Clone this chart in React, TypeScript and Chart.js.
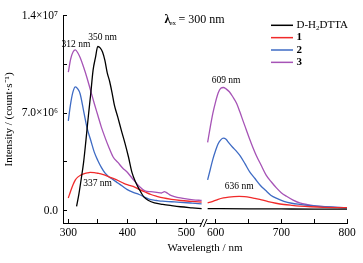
import React, { useEffect, useRef } from 'react';
import { Chart, registerables } from 'chart.js';

Chart.register(...registerables);

const FONT = "'Liberation Serif', 'Times New Roman', serif";

const seriesLabels = ['D-H\u2082DTTA', '1', '2', '3'];
const seriesColors = ['#000000', '#f02a2a', '#3e6bc4', '#a653b6'];

// ---- left segment (300–530 nm) ----
const wlLigL = [314, 318, 322, 326, 330, 334, 338, 342, 346, 350, 354, 358, 362, 366, 370, 374, 378, 384, 390, 396, 402, 408, 414, 420, 428, 436, 446, 460, 475, 490, 510, 526];
const valLigL = [0.3e6, 1.2e6, 2.3e6, 3.5e6, 5.1e6, 6.8e6, 8.4e6, 10.1e6, 11.0e6, 11.8e6, 11.7e6, 11.4e6, 10.8e6, 9.9e6, 9.3e6, 8.5e6, 7.6e6, 6.7e6, 5.75e6, 4.85e6, 3.85e6, 2.72e6, 2.05e6, 1.54e6, 0.98e6, 0.72e6, 0.55e6, 0.44e6, 0.35e6, 0.27e6, 0.19e6, 0.13e6];

const wl1L = [300, 304, 308, 312, 316, 320, 326, 332, 337, 344, 350, 358, 366, 376, 386, 394, 402, 410, 420, 430, 440, 450, 461, 475, 490, 510, 526];
const val1L = [0.9e6, 1.4e6, 1.85e6, 2.2e6, 2.4e6, 2.52e6, 2.63e6, 2.7e6, 2.74e6, 2.73e6, 2.68e6, 2.6e6, 2.48e6, 2.31e6, 2.12e6, 1.95e6, 1.83e6, 1.73e6, 1.52e6, 1.33e6, 1.15e6, 1.02e6, 0.9e6, 0.8e6, 0.72e6, 0.65e6, 0.6e6];

const wl2L = [300, 304, 308, 312, 316, 320, 326, 332, 338, 344, 350, 356, 362, 368, 376, 384, 392, 400, 410, 420, 430, 440, 450, 460, 475, 490, 510, 526];
const val2L = [6.45e6, 7.7e6, 8.55e6, 8.9e6, 8.75e6, 8.4e6, 7.15e6, 5.9e6, 5.05e6, 4.2e6, 3.6e6, 3.1e6, 2.7e6, 2.45e6, 2.22e6, 1.98e6, 1.74e6, 1.5e6, 1.3e6, 1.15e6, 0.95e6, 0.78e6, 0.72e6, 0.67e6, 0.63e6, 0.59e6, 0.53e6, 0.48e6];

const wl3L = [300, 304, 308, 312, 316, 320, 326, 332, 338, 344, 350, 356, 362, 368, 376, 384, 392, 400, 410, 420, 430, 440, 450, 458, 463, 466, 472, 480, 490, 500, 512, 526];
const val3L = [9.95e6, 10.9e6, 11.4e6, 11.55e6, 11.35e6, 11.0e6, 10.3e6, 9.5e6, 8.6e6, 7.7e6, 6.85e6, 6.0e6, 5.28e6, 4.62e6, 3.85e6, 3.46e6, 3.06e6, 2.75e6, 2.23e6, 1.75e6, 1.41e6, 1.35e6, 1.3e6, 1.26e6, 1.36e6, 1.3e6, 1.12e6, 1.0e6, 0.9e6, 0.83e6, 0.77e6, 0.72e6];

// ---- right segment (585–800 nm) ----
const wlLigR = [588, 650, 700, 750, 800];
const valLigR = [0.14e6, 0.12e6, 0.11e6, 0.1e6, 0.1e6];

const wl1R = [588, 596, 604, 612, 620, 628, 636, 644, 652, 660, 670, 680, 692, 704, 716, 728, 745, 765, 785, 800];
const val1R = [0.55e6, 0.66e6, 0.8e6, 0.9e6, 0.96e6, 1.0e6, 1.02e6, 1.0e6, 0.95e6, 0.87e6, 0.77e6, 0.64e6, 0.52e6, 0.43e6, 0.37e6, 0.32e6, 0.27e6, 0.23e6, 0.21e6, 0.2e6];

const wl2R = [588, 592, 596, 600, 604, 608, 612, 616, 620, 626, 632, 638, 645, 652, 660, 668, 676, 684, 694, 704, 716, 728, 745, 765, 785, 800];
const val2R = [2.2e6, 2.95e6, 3.7e6, 4.3e6, 4.8e6, 5.08e6, 5.2e6, 5.12e6, 4.88e6, 4.55e6, 4.25e6, 3.9e6, 3.35e6, 2.78e6, 2.3e6, 1.82e6, 1.45e6, 1.1e6, 0.85e6, 0.66e6, 0.52e6, 0.44e6, 0.35e6, 0.27e6, 0.22e6, 0.2e6];

const wl3R = [588, 592, 596, 600, 604, 608, 612, 616, 621, 626, 632, 637, 642, 647, 652, 657, 662, 670, 677, 685, 693, 700, 708, 718, 728, 740, 754, 770, 785, 800];
const val3R = [4.9e6, 6.0e6, 7.0e6, 7.8e6, 8.45e6, 8.8e6, 8.85e6, 8.75e6, 8.54e6, 8.2e6, 7.72e6, 7.1e6, 6.43e6, 5.78e6, 5.13e6, 4.52e6, 3.96e6, 3.2e6, 2.55e6, 2.05e6, 1.61e6, 1.28e6, 1.02e6, 0.75e6, 0.55e6, 0.42e6, 0.32e6, 0.26e6, 0.22e6, 0.2e6];

// axis ranges and ticks
const xLeftRange = [291, 531.7];
const xRightRange = [584, 800];
const yRange = [-0.9e6, 1.4e7];
const xLeftTicks = [300, 350, 400, 450, 500];
const xRightTicks = [600, 650, 700, 750, 800];
const xTickLabels = [300, 400, 500, 600, 700, 800];
const yTicks = [0, 3.5e6, 7e6, 1.05e7, 1.4e7];
const yTickValues = [0, 7e6, 1.4e7];
const yTickLabels = ['0.0', '7.0\u00d710\u2076', '1.4\u00d710\u2077'];

// peak annotations: text, segment, wavelength, intensity
const peakTexts = ['350 nm', '312 nm', '337 nm', '609 nm', '636 nm'];
const peakSide = ['L', 'L', 'L', 'R', 'R'];
const peakWl = [358, 313, 349.5, 616, 636];
const peakVal = [12.48e6, 11.95e6, 1.94e6, 9.38e6, 1.76e6];

const toPts = (xs: number[], ys: number[]) => xs.map((x, i) => ({ x, y: ys[i] }));

export default function App() {
  const ref = useRef<HTMLCanvasElement | null>(null);

  useEffect(() => {
    if (!ref.current) return;

    const left = [toPts(wlLigL, valLigL), toPts(wl1L, val1L), toPts(wl2L, val2L), toPts(wl3L, val3L)];
    const right = [toPts(wlLigR, valLigR), toPts(wl1R, val1R), toPts(wl2R, val2R), toPts(wl3R, val3R)];

    const datasets: any[] = [];
    [0, 1, 2, 3].forEach((i) => {
      const base = {
        label: seriesLabels[i],
        borderColor: seriesColors[i],
        backgroundColor: seriesColors[i],
        borderWidth: 1.3,
        pointRadius: 0,
        fill: false,
        cubicInterpolationMode: 'monotone',
        yAxisID: 'y',
      };
      datasets.push({ ...base, data: left[i], xAxisID: 'xL' });
      datasets.push({ ...base, data: right[i], xAxisID: 'xR' });
    });

    const xTickCb = (v: any) => (xTickLabels.includes(Math.round(Number(v))) ? String(Math.round(Number(v))) : '');

    const xScale = (range: number[], tickVals: number[]) => ({
      type: 'linear',
      position: 'bottom',
      stack: 'wl',
      stackWeight: 1,
      min: range[0],
      max: range[1],
      afterBuildTicks: (s: any) => {
        s.ticks = tickVals.map((v) => ({ value: v }));
      },
      afterFit: (s: any) => {
        s.height = 40;
      },
      grid: { drawOnChartArea: false, drawTicks: true, tickLength: -4, color: '#000', lineWidth: 1 },
      border: { display: true, color: '#000', width: 1 },
      ticks: {
        autoSkip: false,
        maxRotation: 0,
        padding: 7,
        color: '#000',
        font: { family: FONT, size: 11.5 },
        callback: xTickCb,
      },
    });

    const overlay = {
      id: 'overlay',
      afterDraw(chart: any) {
        const ctx = chart.ctx;
        const xL = chart.scales.xL;
        const xR = chart.scales.xR;
        const y = chart.scales.y;
        ctx.save();

        // axis break
        const b = xL.right;
        const ya = xL.top;
        ctx.fillStyle = '#fff';
        ctx.fillRect(b - 3, ya - 1.5, 4.5, 3);
        ctx.strokeStyle = '#000';
        ctx.lineWidth = 1;
        ctx.beginPath();
        ctx.moveTo(b - 5, ya + 4);
        ctx.lineTo(b - 1.5, ya - 4);
        ctx.moveTo(b - 1.5, ya + 4);
        ctx.lineTo(b + 2, ya - 4);
        ctx.stroke();

        ctx.fillStyle = '#000';
        // x title
        ctx.font = `11px ${FONT}`;
        ctx.textAlign = 'center';
        ctx.textBaseline = 'middle';
        ctx.fillText('Wavelength / nm', (xL.left + xR.right) / 2, 248);

        // excitation label
        ctx.textAlign = 'left';
        ctx.textBaseline = 'alphabetic';
        ctx.font = `bold 12px ${FONT}`;
        ctx.fillText('\u03bb', 164.5, 23);
        ctx.font = `7px ${FONT}`;
        ctx.fillText('ex', 169.5, 25);
        ctx.font = `12px ${FONT}`;
        ctx.fillText('= 300 nm', 178.5, 23);

        // peak labels
        ctx.font = `9.5px ${FONT}`;
        ctx.textAlign = 'center';
        ctx.textBaseline = 'middle';
        peakTexts.forEach((t, i) => {
          const xs = peakSide[i] === 'L' ? xL : xR;
          ctx.fillText(t, xs.getPixelForValue(peakWl[i]), y.getPixelForValue(peakVal[i]));
        });

        // legend
        const lx = 271;
        const ly = 25.3;
        seriesLabels.forEach((lab, i) => {
          const yy = ly + i * 12.35;
          ctx.strokeStyle = seriesColors[i];
          ctx.lineWidth = 1.5;
          ctx.beginPath();
          ctx.moveTo(lx, yy);
          ctx.lineTo(lx + 22, yy);
          ctx.stroke();
          ctx.fillStyle = '#000';
          ctx.textAlign = 'left';
          ctx.textBaseline = 'middle';
          let x = lx + 25.5;
          if (i === 0) {
            const parts = lab.split('\u2082');
            ctx.font = `11px ${FONT}`;
            ctx.fillText(parts[0], x, yy);
            x += ctx.measureText(parts[0]).width;
            ctx.font = `7px ${FONT}`;
            ctx.fillText('2', x, yy + 3);
            x += ctx.measureText('2').width;
            ctx.font = `11px ${FONT}`;
            ctx.fillText(parts[1], x, yy);
          } else {
            ctx.font = `bold 11px ${FONT}`;
            ctx.fillText(lab, x, yy);
          }
        });
        ctx.restore();
      },
    };

    const chart = new Chart(ref.current, {
      type: 'line',
      data: { datasets },
      options: {
        responsive: false,
        animation: false,
        layout: { padding: { top: 11, right: 16, left: 0, bottom: 0 } },
        plugins: { legend: { display: false }, tooltip: { enabled: false }, title: { display: false } },
        scales: {
          xL: xScale(xLeftRange, xLeftTicks) as any,
          xR: xScale(xRightRange, xRightTicks) as any,
          y: {
            type: 'linear',
            position: 'left',
            min: yRange[0],
            max: yRange[1],
            afterBuildTicks: (s: any) => {
              s.ticks = yTicks.map((v) => ({ value: v }));
            },
            afterFit: (s: any) => {
              s.width = 63;
            },
            grid: { drawOnChartArea: false, drawTicks: true, tickLength: -4, color: '#000', lineWidth: 1 },
            border: { display: true, color: '#000', width: 1 },
            ticks: {
              autoSkip: false,
              padding: 9,
              color: '#000',
              font: { family: FONT, size: 11.5 },
              callback: (v: any) => {
                const i = yTickValues.findIndex((t) => Math.abs(t - Number(v)) < 1);
                return i >= 0 ? yTickLabels[i] : '';
              },
            },
            title: {
              display: true,
              text: 'Intensity / (count\u00b7s\u207b\u00b9)',
              color: '#000',
              font: { family: FONT, size: 11 },
              padding: { top: 3, bottom: 0 },
            },
          } as any,
        },
      } as any,
      plugins: [overlay],
    });

    return () => chart.destroy();
  }, []);

  return (
    <div style={{ position: 'absolute', left: 0, top: 0, width: 363, height: 263, background: '#fff' }}>
      <canvas ref={ref} width={363} height={263} />
    </div>
  );
}
